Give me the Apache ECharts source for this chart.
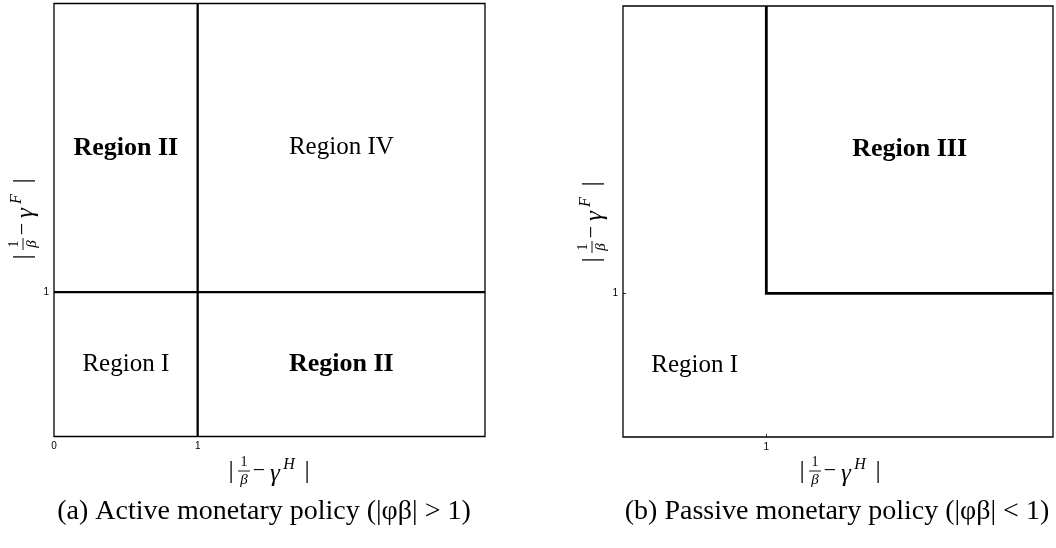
<!DOCTYPE html>
<html>
<head>
<meta charset="utf-8">
<script src="https://cdn.jsdelivr.net/npm/echarts@6/dist/echarts.min.js"></script>
<style>
html,body{margin:0;padding:0;background:#fff;}
#chart{width:1056px;height:548px;}
</style>
</head>
<body>
<div id="chart"></div>
<script>
// ---- data ----
const axisMin = 0;
const axisMax = 3;
const axisStep = 1;

const leftXTickLabels = [0, 1];
const leftYTickLabels = [1];
const rightXTickLabels = [1];
const rightYTickLabels = [1];

// boundaries (threshold = 1)
const leftVerticalBoundary = [[1, 0], [1, 3]];
const leftHorizontalBoundary = [[0, 1], [3, 1]];
const rightBoundary = [[1, 3], [1, 1], [3, 1]];

// region labels
const leftRegionNames = ['Region II', 'Region IV', 'Region I', 'Region II'];
const leftRegionX = [0.5, 2, 0.5, 2];
const leftRegionY = [2, 2, 0.5, 0.5];
const leftRegionBold = [true, false, false, true];

const rightRegionNames = ['Region III', 'Region I'];
const rightRegionX = [2, 0.5];
const rightRegionY = [2, 0.5];
const rightRegionBold = [true, false];

const captions = ['(a) Active monetary policy (|φβ| > 1)', '(b) Passive monetary policy (|φβ| < 1)'];

// ---- chart ----
const chart = echarts.init(document.getElementById('chart'), null, {renderer: 'canvas'});
const SERIF = '"Liberation Serif", "DejaVu Serif", serif';
const SANS = '"Liberation Sans", Arial, sans-serif';

function regionData(names, xs, ys, bold) {
  return names.map((n, i) => ({
    value: [xs[i], ys[i]],
    name: n,
    label: {fontWeight: bold[i] ? 'bold' : 'normal', fontSize: bold[i] ? 26 : 25}
  }));
}

function makeAxis(gridIndex, labels, ticks) {
  return {
    type: 'value', gridIndex: gridIndex, min: axisMin, max: axisMax, interval: axisStep,
    splitLine: {show: false},
    axisLine: {show: false},
    axisTick: ticks ? {show: true, inside: true, length: 3, customValues: labels, lineStyle: {color: '#000', width: 0.8}} : {show: false},
    axisLabel: {
      show: true, customValues: labels, color: '#000', fontFamily: SANS, fontSize: 10, margin: 5,
      formatter: v => String(v)
    }
  };
}

function mathLabel(cx, cy, rot, sup) {
  const t = (x, y, text, font) => ({type: 'text', x: x, y: y,
    style: {text: text, font: font, fill: '#000', textAlign: 'center', textVerticalAlign: 'middle'}});
  return {
    type: 'group', x: cx, y: cy, rotation: rot, silent: true,
    children: [
      t(-39, 0, '|', '26px ' + SERIF),
      t(-26, -9, '1', '14px ' + SERIF),
      {type: 'line', shape: {x1: -32, y1: 0, x2: -20, y2: 0}, style: {stroke: '#000', lineWidth: 0.9}},
      t(-26, 9, 'β', 'italic 15px ' + SERIF),
      t(-11, 0, '−', '22px ' + SERIF),
      t(5, 3, 'γ', 'italic 25px ' + SERIF),
      t(19, -6, sup, 'italic 16px ' + SERIF),
      t(37, 0, '|', '26px ' + SERIF)
    ]
  };
}

const regionLabelBase = {
  show: true, position: 'inside', color: '#000', opacity: 1, fontFamily: SERIF, fontSize: 25,
  formatter: p => p.name
};

const option = {
  backgroundColor: '#fff',
  animation: false,
  grid: [
    {left: 54, top: 3.5, width: 431, height: 433, show: true, borderColor: '#000', borderWidth: 1.3, backgroundColor: 'transparent'},
    {left: 623, top: 6, width: 430, height: 431, show: true, borderColor: '#000', borderWidth: 1.3, backgroundColor: 'transparent'}
  ],
  xAxis: [
    makeAxis(0, leftXTickLabels, false),
    makeAxis(1, rightXTickLabels, true)
  ],
  yAxis: [
    makeAxis(0, leftYTickLabels, false),
    makeAxis(1, rightYTickLabels, true)
  ],
  series: [
    {type: 'line', xAxisIndex: 0, yAxisIndex: 0, data: leftVerticalBoundary, symbol: 'none', lineStyle: {color: '#000', width: 2.3}},
    {type: 'line', xAxisIndex: 0, yAxisIndex: 0, data: leftHorizontalBoundary, symbol: 'none', lineStyle: {color: '#000', width: 2.3}},
    {type: 'line', xAxisIndex: 1, yAxisIndex: 1, data: rightBoundary, symbol: 'none', lineStyle: {color: '#000', width: 2.8, join: 'miter'}},
    {type: 'scatter', xAxisIndex: 0, yAxisIndex: 0, symbolSize: 0, itemStyle: {color: '#000'},
      data: regionData(leftRegionNames, leftRegionX, leftRegionY, leftRegionBold), label: regionLabelBase},
    {type: 'scatter', xAxisIndex: 1, yAxisIndex: 1, symbolSize: 0, itemStyle: {color: '#000'},
      data: regionData(rightRegionNames, rightRegionX, rightRegionY, rightRegionBold), label: regionLabelBase}
  ],
  graphic: [
    mathLabel(270, 471, 0, 'H'),
    mathLabel(841, 471, 0, 'H'),
    mathLabel(23, 218, Math.PI / 2, 'F'),
    mathLabel(592, 221, Math.PI / 2, 'F'),
    {type: 'text', x: 264, y: 512, silent: true, style: {text: captions[0], font: '28px ' + SERIF, fill: '#000', textAlign: 'center', textVerticalAlign: 'middle'}},
    {type: 'text', x: 837, y: 512, silent: true, style: {text: captions[1], font: '28px ' + SERIF, fill: '#000', textAlign: 'center', textVerticalAlign: 'middle'}}
  ]
};
chart.setOption(option);
</script>
</body>
</html>
